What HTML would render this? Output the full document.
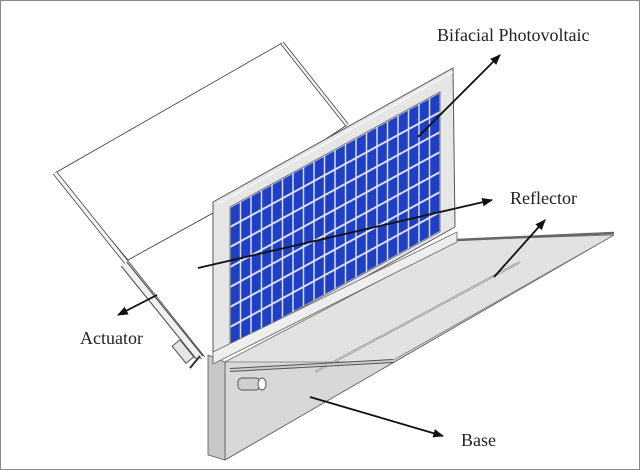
<!DOCTYPE html>
<html><head><style>body{margin:0;background:#fff}svg{display:block}</style></head><body>
<svg width="640" height="470" viewBox="0 0 640 470" xmlns="http://www.w3.org/2000/svg" font-family="Liberation Serif, serif">
<defs>
<marker id="ah" viewBox="0 0 10 10" refX="9" refY="5" markerWidth="6" markerHeight="6" orient="auto"><path d="M0,1 L10,5 L0,9 z" fill="#111"/></marker>
<pattern id="cells" patternUnits="userSpaceOnUse" x="230" y="333" width="10.5" height="20">
<rect width="10.5" height="20" fill="#dfe4f2"/>
<rect x="0.7" y="1.2" width="9.1" height="17.8" fill="#1f3fc4"/>
</pattern>
</defs>
<rect x="0.5" y="0.5" width="639" height="469" fill="#fff" stroke="#888"/>
<!-- left reflector -->
<polygon points="55,173 282,43 347,125 213,213 128,260" fill="#fff" stroke="#333" stroke-width="0.8"/>
<line x1="282" y1="43" x2="347" y2="125" stroke="#444" stroke-width="4"/>
<line x1="282" y1="43" x2="347" y2="125" stroke="#f2f2f2" stroke-width="2.4"/>
<line x1="55" y1="173" x2="203" y2="358" stroke="#444" stroke-width="5"/>
<line x1="55" y1="173" x2="203" y2="358" stroke="#f2f2f2" stroke-width="3.4"/>
<line x1="124" y1="264" x2="200" y2="358" stroke="#444" stroke-width="8"/>
<line x1="124" y1="264" x2="200" y2="358" stroke="#f0f0f0" stroke-width="6"/>
<rect x="-5" y="0" width="10" height="22" fill="#e6e6e6" stroke="#555" transform="translate(176,343) rotate(-39)"/>
<line x1="190" y1="368" x2="200" y2="356" stroke="#333" stroke-width="2"/>
<!-- right reflector / base face -->
<polygon points="225,362 457,240 614,235 225,460" fill="#d8d8d8" stroke="#555" stroke-width="0.8"/>
<polygon points="225,362 457,240 614,235 390,362" fill="#e2e2e2" stroke="#777" stroke-width="0.8"/>
<line x1="457" y1="240" x2="614" y2="233" stroke="#666" stroke-width="2.5"/>
<line x1="315" y1="372" x2="520" y2="262" stroke="#777" stroke-width="2"/>
<line x1="315" y1="372" x2="520" y2="262" stroke="#eee" stroke-width="0.8"/>
<line x1="230" y1="370" x2="393" y2="361" stroke="#555" stroke-width="4"/>
<line x1="230" y1="370" x2="393" y2="361" stroke="#ccc" stroke-width="2"/>
<rect x="238" y="378" width="22" height="12" rx="4" fill="#d0d0d0" stroke="#555"/>
<ellipse cx="262" cy="384" rx="4" ry="6" fill="#fff" stroke="#555"/>
<!-- base front slab -->
<polygon points="208,355 225,362 225,460 208,455" fill="#c8c8c8" stroke="#555" stroke-width="0.8"/>
<!-- panel frame -->
<polygon points="213,202 453,68 455,227 213,362" fill="#e6e6e6" stroke="#555" stroke-width="1"/>
<polygon points="218,204 453,72" stroke="#fff" fill="none"/>
<g transform="matrix(1,-0.548,0,1,0,0)">
<rect x="230" y="333" width="210" height="140" fill="url(#cells)" stroke="#555" stroke-width="0.8"/>
</g>
<polygon points="213,352 457,232 457,242 213,364" fill="#eee" stroke="#666" stroke-width="0.8"/>
<!-- arrows -->
<g stroke="#111" stroke-width="1.8" fill="none" marker-end="url(#ah)">
<line x1="418" y1="137" x2="500" y2="55"/>
<line x1="198" y1="268" x2="492" y2="200"/>
<line x1="494" y1="277" x2="545" y2="220"/>
<line x1="157" y1="295" x2="118" y2="315"/>
<line x1="310" y1="397" x2="443" y2="436"/>
</g>
<g font-size="18" fill="#222">
<text x="437" y="41">Bifacial Photovoltaic</text>
<text x="510" y="204">Reflector</text>
<text x="80" y="344">Actuator</text>
<text x="461" y="446">Base</text>
</g>
</svg>
</body></html>
